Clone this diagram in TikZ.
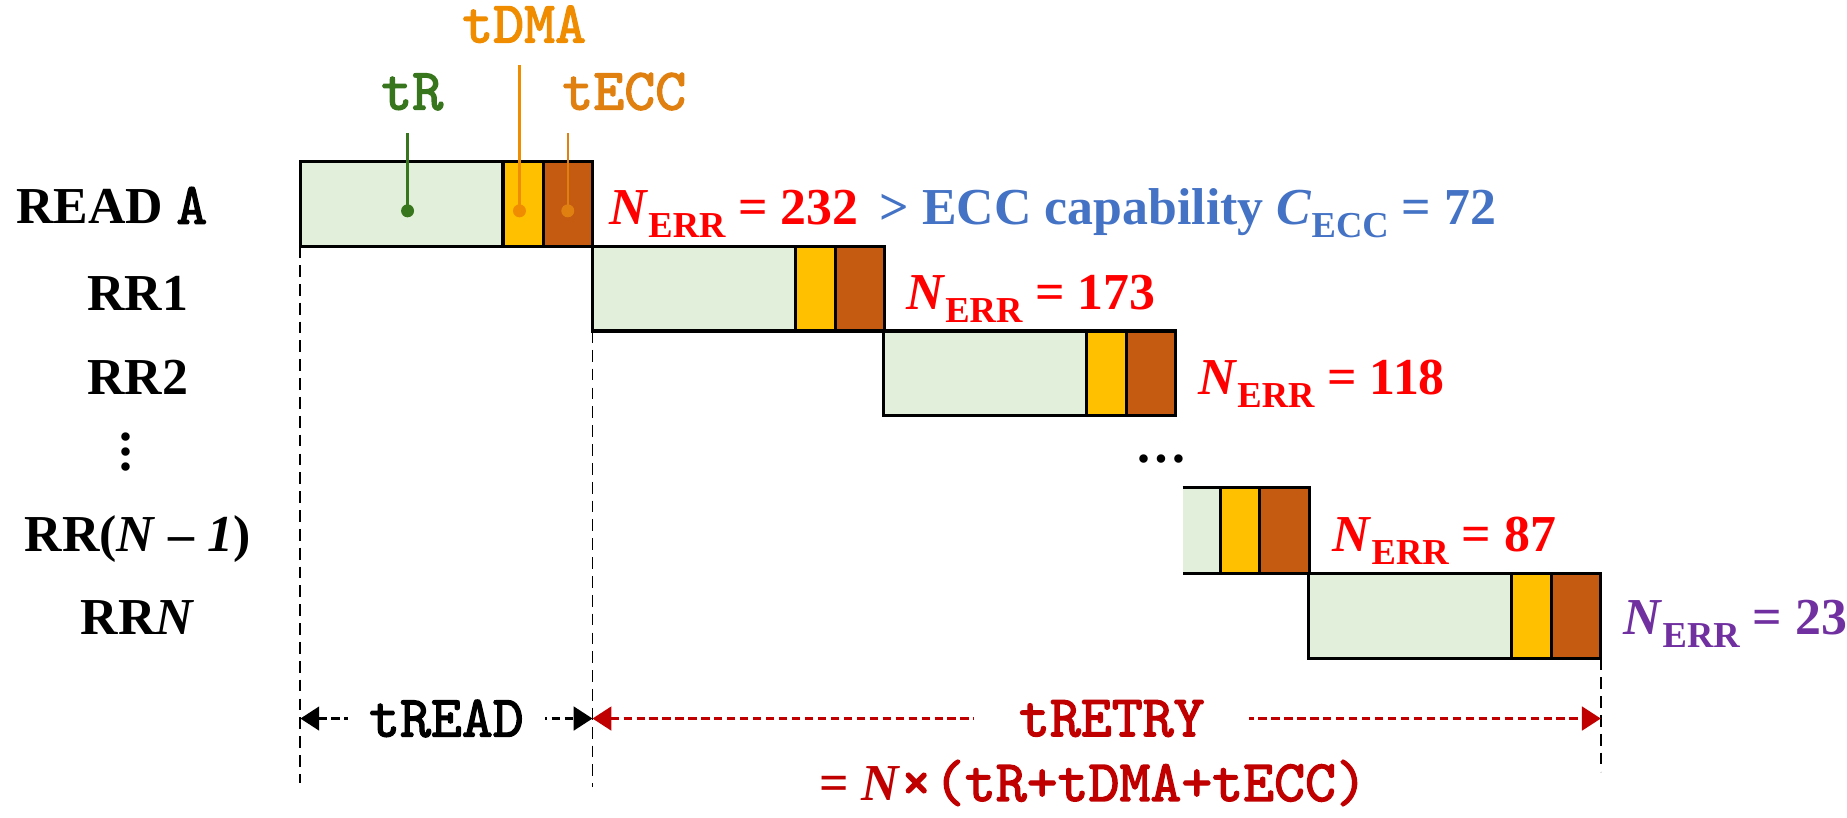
\documentclass[tikz,border=0pt]{standalone}
\usepackage{fontspec}
\setmainfont{Liberation Serif}
\newfontfamily\courbf[FakeBold=2.2]{lmmono10-regular.otf}
\usetikzlibrary{arrows.meta}
\definecolor{gfill}{HTML}{E2EFDA}
\definecolor{yfill}{HTML}{FFC000}
\definecolor{bfill}{HTML}{C55A11}
\definecolor{errred}{HTML}{FF0000}
\definecolor{capblue}{HTML}{4472C4}
\definecolor{okpurple}{HTML}{7030A0}
\definecolor{darkred}{HTML}{C00000}
\definecolor{trgreen}{RGB}{56,118,29}
\definecolor{dmaorange}{RGB}{240,140,0}
\definecolor{eccorange}{RGB}{224,128,16}
\newcommand\subtxt[1]{\raisebox{-5.5pt}{\fontsize{15.5}{16}\selectfont #1}}
\newcommand\nerrlbl{\textit{N}\subtxt{ERR}}
\newcommand\monobf{\fontsize{25}{27}\selectfont\courbf}
\tikzset{
  lbl/.style={font=\fontsize{22}{24}\selectfont\bfseries, anchor=base, inner sep=0pt},
  errlbl/.style={font=\fontsize{22}{24}\selectfont\bfseries, anchor=base west, inner sep=0pt, text=errred},
  mono/.style={font=\monobf, inner sep=0pt, anchor=base},
  boxline/.style={draw=black, line width=1.3pt},
  guide/.style={draw=black, line width=0.8pt, dash pattern=on 5pt off 3pt},
  dim/.style={line width=1.3pt, dash pattern=on 3.5pt off 2pt, {Triangle[length=8pt,width=10pt]}-{Triangle[length=8pt,width=10pt]}},
  pin/.style={line width=1pt},
  pindot/.style={circle, inner sep=0pt, minimum width=5pt, minimum height=5.5pt}
}
\begin{document}
\begin{tikzpicture}[x=0.5pt,y=-0.5pt]
\useasboundingbox (0,0) rectangle (1568,694);

% full rows: x, top
\foreach \x/\t/\n in {255/137/r0, 503/209/r1, 750/281/r2, 1111/487/r4}{
  \fill[gfill] (\x,\t) rectangle ++(172,72);
  \fill[yfill] (\x+172,\t) rectangle ++(34,72);
  \fill[bfill] (\x+206,\t) rectangle ++(42,72);
  \draw[boxline] (\x,\t) rectangle ++(248,72);
  \draw[boxline] (\x+172,\t) -- ++(0,72);
  \draw[boxline] (\x+206,\t) -- ++(0,72);
}
% truncated row RR(N-1)
\fill[gfill] (1004,414) rectangle (1036,487);
\fill[yfill] (1036,414) rectangle (1069,487);
\fill[bfill] (1069,414) rectangle (1112,487);
\draw[boxline] (1004,414) -- (1112,414) -- (1112,487) -- (1004,487);
\draw[boxline] (1036,414) -- (1036,487);
\draw[boxline] (1069,414) -- (1069,487);

% row labels
\node[lbl] (lA) at (95,190) {READ {\monobf A}};
\node[lbl] (l1) at (117,264) {RR1};
\node[lbl] (l2) at (117,335) {RR2};
\node[lbl, anchor=center] (lv) at (107,384) {\vbox{\baselineskip=6.3pt\hbox{.}\hbox{.}\hbox{.}}};
\node[lbl] (l3) at (117,468) {RR(\textit{N} – \textit{1})};
\node[lbl] (l4) at (117,539) {RR\textit{N}};
\node[lbl] (hd) at (986,393) {…};

% N_ERR labels
\node[errlbl] (e0) at (517,191) {\nerrlbl{} = 232\hspace{9pt}\textcolor{capblue}{> ECC capability \textit{C}\subtxt{ECC} = 72}};
\node[errlbl] (e1) at (769,263) {\nerrlbl{} = 173};
\node[errlbl] (e2) at (1017,335) {\nerrlbl{} = 118};
\node[errlbl] (e3) at (1131,468) {\nerrlbl{} = 87};
\node[errlbl, text=okpurple] (e4) at (1378,539) {\nerrlbl{} = 23};

% top pins
\node[mono, text=trgreen] (ttR) at (350,93) {tR};
\node[mono, text=dmaorange] (ttDMA) at (445,36) {tDMA};
\node[mono, text=eccorange] (ttECC) at (530,93) {tECC};
\coordinate (pR) at (346,113);
\coordinate (pD) at (441,55);
\coordinate (pE) at (482,113);
\node[pindot, fill=trgreen] (dR) at (346,179) {};
\node[pindot, fill=dmaorange] (dD) at (441,179) {};
\node[pindot, fill=eccorange] (dE) at (482,179) {};
\draw[pin, trgreen] (pR) -- (dR.center);
\draw[pin, dmaorange] (pD) -- (dD.center);
\draw[pin, eccorange] (pE) -- (dE.center);

% guides
\coordinate (g0a) at (255,209); \coordinate (g0b) at (255,665);
\coordinate (g1a) at (503,281); \coordinate (g1b) at (503,668);
\coordinate (g2a) at (1359,559); \coordinate (g2b) at (1359,655);
\draw[guide] (g0a) -- (g0b);
\draw[guide] (g1a) -- (g1b);
\draw[guide] (g2a) -- (g2b);

% dimension arrows
\coordinate (a0) at (255,610);
\coordinate (a1) at (503,610);
\coordinate (a2) at (1359,610);
\draw[dim, black] (a0) -- (a1) node[midway, fill=white, mono, anchor=center, inner xsep=9pt, inner ysep=2pt, text=black] (tREAD) {tREAD};
\draw[dim, darkred] (a1) -- (a2) node[pos=0.515, fill=white, mono, anchor=center, inner xsep=19pt, inner ysep=2pt, text=darkred] (tRETRY) {tRETRY};
\node[lbl, text=darkred] (form) at (928,680) {= \textit{N}{\monobf ×\hspace{1pt}(tR+tDMA+tECC)}};
\end{tikzpicture}
\end{document}
